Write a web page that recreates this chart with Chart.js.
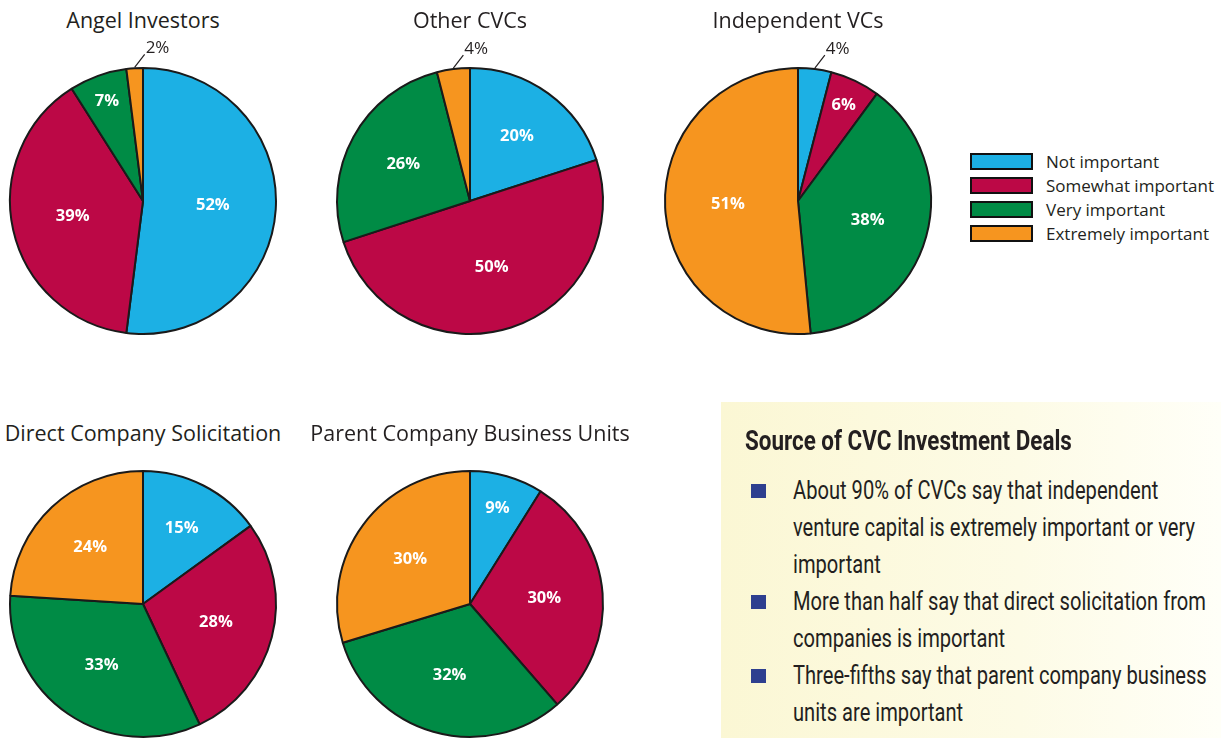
<!DOCTYPE html>
<html>
<head>
<meta charset="utf-8">
<script src="https://cdn.jsdelivr.net/npm/chart.js@4/dist/chart.umd.min.js"></script>
<style>
  body { margin:0; width:1221px; height:738px; overflow:hidden; background:#fff; position:relative;
         font-family:"Open Sans", sans-serif; color:#231f20; }
  .pie { position:absolute; width:340px; height:340px; }
  .ptitle { position:absolute; width:400px; text-align:center; font-size:21.5px; line-height:28px; white-space:nowrap; }
  .legend { position:absolute; left:970px; top:149px; }
  .lrow { display:flex; align-items:center; height:24px; font-size:17px; }
  .lbox { width:59px; height:13px; border:2px solid #111; margin-right:13px; }
  .note { position:absolute; left:721px; top:402px; width:500px; height:336px;
          background:linear-gradient(to right, #fbf7d4, #fdfbe6 60%, #fffff8);
          font-family:Roboto, sans-serif; }
  .note h3 { position:absolute; left:24px; top:24px; margin:0; font-size:27px; line-height:30px; font-weight:bold;
             white-space:nowrap; transform:scaleX(0.83); transform-origin:left center; }
  .note ul { position:absolute; left:0; top:70px; margin:0; padding:0; list-style:none; }
  .note li { position:relative; padding-left:72px; font-size:25px; line-height:37px; white-space:nowrap; }
  .note li span { display:inline-block; transform:scaleX(0.805); transform-origin:left center; }
  .note li::before { content:""; position:absolute; left:30px; top:12px; width:15px; height:14px; background:#2e3f8f; }
</style>
</head>
<body>
<div id="root"></div>
<div class="legend" id="legend"></div>
<div class="note">
  <h3>Source of CVC Investment Deals</h3>
  <ul>
    <li><span>About 90% of CVCs say that independent<br>venture capital is extremely important or very<br>important</span></li>
    <li><span>More than half say that direct solicitation from<br>companies is important</span></li>
    <li><span>Three-fifths say that parent company business<br>units are important</span></li>
  </ul>
</div>
<script>
const categories = ["Not important", "Somewhat important", "Very important", "Extremely important"];
const colors = ["#1cb0e4", "#bc0846", "#008b45", "#f6951f"];

const titles = ["Angel Investors", "Other CVCs", "Independent VCs", "Direct Company Solicitation", "Parent Company Business Units"];
const angelInvestors = [52, 39, 7, 2];
const otherCVCs = [20, 50, 26, 4];
const independentVCs = [4, 6, 38, 51];
const directSolicitation = [15, 28, 33, 24];
const parentUnits = [9, 30, 32, 30];
const series = [angelInvestors, otherCVCs, independentVCs, directSolicitation, parentUnits];

// pie centres on the page
const centers = [[143, 201], [470, 201], [798, 201], [143, 604], [470, 604]];
const titleY = [20, 20, 20, 433, 433];

// percent labels: inside (white bold) or outside with a short leader for tiny slices
const pctLabels = {
  id: "pctLabels",
  afterDatasetsDraw(chart) {
    const ctx = chart.ctx;
    const data = chart.data.datasets[0].data;
    chart.getDatasetMeta(0).data.forEach((arc, i) => {
      const v = data[i];
      const mid = (arc.startAngle + arc.endAngle) / 2;
      ctx.save();
      if (v < 5) {
        const x0 = arc.x + Math.cos(mid) * arc.outerRadius;
        const y0 = arc.y + Math.sin(mid) * arc.outerRadius - 1;
        const x1 = x0 + 10, y1 = y0 - 13;
        ctx.strokeStyle = "#231f20";
        ctx.lineWidth = 1.2;
        ctx.beginPath(); ctx.moveTo(x0, y0); ctx.lineTo(x1, y1); ctx.stroke();
        ctx.fillStyle = "#231f20";
        ctx.font = "17px 'Open Sans'";
        ctx.textAlign = "left";
        ctx.textBaseline = "alphabetic";
        ctx.fillText(v + "%", x1 + 1, y1 - 1);
      } else {
        const k = Math.min(0.8, 0.48 + 2.4 / v);
        const r = arc.outerRadius * k;
        ctx.fillStyle = "#ffffff";
        ctx.font = "bold 16.5px 'Open Sans'";
        ctx.textAlign = "center";
        ctx.textBaseline = "middle";
        ctx.fillText(v + "%", arc.x + Math.cos(mid) * r, arc.y + Math.sin(mid) * r);
      }
      ctx.restore();
    });
  }
};

const root = document.getElementById("root");
series.forEach((values, i) => {
  const [cx, cy] = centers[i];
  const t = document.createElement("div");
  t.className = "ptitle";
  t.style.left = (cx - 200) + "px";
  t.style.top = (titleY[i] - 14) + "px";
  t.textContent = titles[i];
  root.appendChild(t);

  const wrap = document.createElement("div");
  wrap.className = "pie";
  wrap.style.left = (cx - 170) + "px";
  wrap.style.top = (cy - 170) + "px";
  const cv = document.createElement("canvas");
  cv.width = 340; cv.height = 340;
  wrap.appendChild(cv);
  root.appendChild(wrap);

  new Chart(cv, {
    type: "pie",
    data: {
      labels: categories,
      datasets: [{
        data: values,
        backgroundColor: colors,
        borderColor: "#1a1a1a",
        borderWidth: 2,
        hoverOffset: 0,
      }],
    },
    options: {
      responsive: false,
      animation: false,
      events: [],
      layout: { padding: 36 },
      plugins: { legend: { display: false }, tooltip: { enabled: false } },
    },
    plugins: [pctLabels],
  });
});

document.getElementById("legend").innerHTML = categories
  .map((c, i) => `<div class="lrow"><span class="lbox" style="background:${colors[i]}"></span>${c}</div>`)
  .join("");
</script>
</body>
</html>
